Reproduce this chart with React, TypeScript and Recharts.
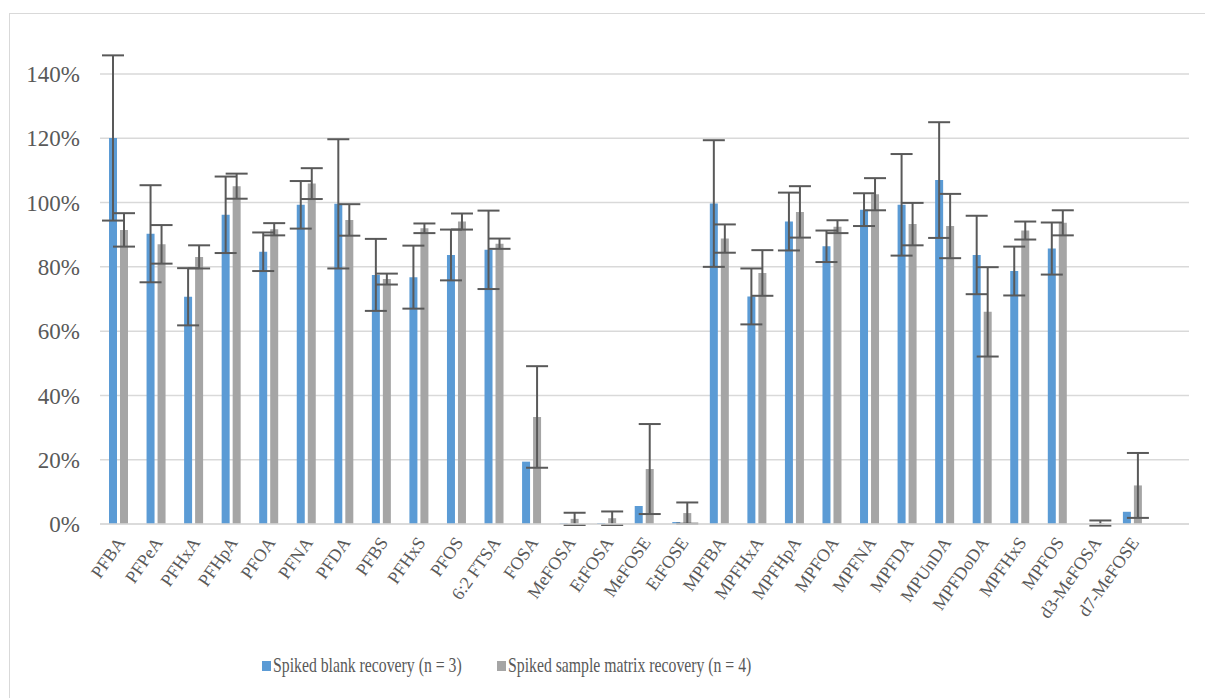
import React from 'react';
import {
  BarChart,
  Bar,
  XAxis,
  YAxis,
  CartesianGrid,
  Legend,
  ErrorBar,
} from 'recharts';

const compounds = [
  'PFBA', 'PFPeA', 'PFHxA', 'PFHpA', 'PFOA', 'PFNA', 'PFDA', 'PFBS', 'PFHxS', 'PFOS',
  '6:2 FTSA', 'FOSA', 'MeFOSA', 'EtFOSA', 'MeFOSE', 'EtFOSE', 'MPFBA', 'MPFHxA', 'MPFHpA',
  'MPFOA', 'MPFNA', 'MPFDA', 'MPUnDA', 'MPFDoDA', 'MPFHxS', 'MPFOS', 'd3-MeFOSA', 'd7-MeFOSE', '',
];

// spiked blank recovery (%), n = 3
const blankRecovery = [
  120.1, 90.3, 70.7, 96.2, 84.7, 99.3, 99.6, 77.5, 76.8, 83.7,
  85.3, 19.4, 0.2, 0.3, 5.6, 0.6, 99.7, 70.8, 94.1,
  86.4, 97.8, 99.3, 107.0, 83.7, 78.7, 85.7, 0, 3.8, null,
];
const blankSd = [
  25.7, 15.1, 8.9, 11.9, 6.0, 7.4, 20.1, 11.2, 9.8, 7.9,
  12.2, 0, 0, 0, 0, 0, 19.7, 8.7, 9.0,
  4.9, 5.1, 15.8, 18.0, 12.2, 7.6, 8.1, 0, 0, null,
];

// spiked sample matrix recovery (%), n = 4
const matrixRecovery = [
  91.5, 87.0, 83.1, 105.1, 91.7, 105.9, 94.6, 76.2, 92.0, 94.1,
  87.2, 33.3, 1.6, 1.8, 17.1, 3.4, 88.8, 78.1, 97.1,
  92.5, 102.6, 93.3, 92.7, 66.0, 91.3, 93.7, 0.3, 12.0, null,
];
const matrixSd = [
  5.2, 6.0, 3.6, 3.9, 1.9, 4.8, 4.9, 1.7, 1.5, 2.5,
  1.6, 15.8, 1.9, 2.1, 14.0, 3.3, 4.4, 7.1, 8.0,
  2.0, 5.0, 6.6, 10.0, 13.9, 2.8, 3.9, 0.8, 10.1, null,
];

const yTicks = [0, 20, 40, 60, 80, 100, 120, 140];

const data = compounds.map((name, i) => ({
  name,
  blank: blankRecovery[i],
  blankErr: blankSd[i],
  matrix: matrixRecovery[i],
  matrixErr: matrixSd[i],
}));

const FONT = '"Liberation Serif", "DejaVu Serif", serif';
const TEXT = '#595959';
const BLUE = '#5B9BD5';
const GREY = '#A5A5A5';

const renderXTick = (props: any) => {
  const { x, y, payload, index } = props;
  return (
    <text
      key={`xt-${index}`}
      x={x + 2}
      y={y}
      transform={`rotate(-55, ${x + 2}, ${y})`}
      textAnchor="end"
      dy="0.35em"
      fill={TEXT}
      fontSize={18}
      fontFamily={FONT}
    >
      {payload.value}
    </text>
  );
};

const legendItems = [
  { label: 'Spiked blank recovery (n = 3)', color: BLUE, left: 262 },
  { label: 'Spiked sample matrix recovery (n = 4)', color: GREY, left: 497 },
];

const LegendContent = () => (
  <div style={{ position: 'relative', height: 40 }}>
    {legendItems.map((it) => (
      <div
        key={it.label}
        style={{
          position: 'absolute',
          left: it.left,
          top: 9,
          display: 'flex',
          alignItems: 'center',
          fontFamily: FONT,
          fontSize: 21,
          color: TEXT,
          whiteSpace: 'nowrap',
        }}
      >
        <span style={{ width: 9, height: 10, background: it.color, marginRight: 2, flex: 'none' }} />
        <span style={{ display: 'inline-block', transform: 'scaleX(0.75)', transformOrigin: 'left center' }}>
          {it.label}
        </span>
      </div>
    ))}
  </div>
);

const App: React.FC = () => {
  return (
    <div style={{ position: 'absolute', left: 0, top: 0, width: 1205, height: 698, background: '#fff' }}>
      <div
        style={{
          position: 'absolute',
          left: 9,
          top: 13,
          width: 1205 - 9,
          height: 698 - 13,
          borderTop: '1.5px solid #D9D9D9',
          borderLeft: '1.5px solid #D9D9D9',
          boxSizing: 'border-box',
        }}
      />
      <div style={{ position: 'absolute', left: 0, top: 0 }}>
        <BarChart
          width={1205}
          height={698}
          data={data}
          margin={{ top: 74, right: 16, left: 0, bottom: 14 }}
          barSize={8}
          barGap={3}
        >
          <CartesianGrid vertical={false} stroke="#D9D9D9" strokeWidth={1.5} />
          <XAxis
            dataKey="name"
            interval={0}
            height={120}
            tickLine={false}
            tickSize={0}
            tickMargin={15}
            axisLine={{ stroke: '#D9D9D9', strokeWidth: 1.5 }}
            tick={renderXTick}
          />
          <YAxis
            width={100}
            domain={[0, 140]}
            allowDataOverflow
            ticks={yTicks}
            tickFormatter={(v) => `${v}%`}
            axisLine={false}
            tickLine={false}
            tickSize={0}
            tickMargin={20}
            tick={{ fill: TEXT, fontSize: 23, fontFamily: FONT }}
          />
          <Legend verticalAlign="bottom" height={40} content={<LegendContent />} />
          <Bar dataKey="blank" fill={BLUE} isAnimationActive={false}>
            <ErrorBar dataKey="blankErr" width={11} stroke="#595959" strokeWidth={2} />
          </Bar>
          <Bar dataKey="matrix" fill={GREY} isAnimationActive={false}>
            <ErrorBar dataKey="matrixErr" width={11} stroke="#595959" strokeWidth={2} />
          </Bar>
        </BarChart>
      </div>
    </div>
  );
};

export default App;
